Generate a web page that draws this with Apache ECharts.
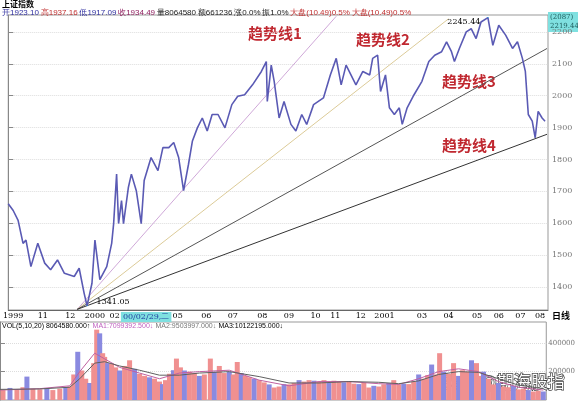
<!DOCTYPE html>
<html>
<head>
<meta charset="utf-8">
<script src="https://cdn.jsdelivr.net/npm/echarts@6/dist/echarts.min.js"></script>
<style>html,body{margin:0;padding:0;background:#fff}#c{width:578px;height:401px}</style>
</head>
<body>
<div id="c"></div>
<script>
// 价格走势 [横向位置, 指数]
var priceX = [0,5,10,15,18,23,30,37,43,50,57,67,72,77,80,85,88,93,100,105,107,110,112,115,117,122,125,130,135,138,145,152,157,163,168,173,178,183,187,192,197,202,207,213,220,227,233,240,248,257,262,263,267,270,275,280,287,292,298,303,310,320,327,333,338,343,353,360,367,370,375,378,383,387,392,397,400,405,412,420,427,433,440,445,450,453,458,465,470,475,480,487,492,498,505,512,517,522,525,528,532,535,538,542,545];
var priceY = [1661,1640,1609,1537,1547,1464,1537,1475,1454,1485,1443,1433,1459,1381,1341,1412,1547,1423,1464,1537,1599,1754,1599,1671,1599,1713,1754,1702,1599,1734,1806,1765,1837,1837,1853,1806,1702,1785,1858,1899,1930,1889,1941,1941,1899,1972,1998,2003,2034,2076,2107,1982,2096,2045,1930,1982,1910,1889,1941,1910,1972,1993,2065,2117,2034,2096,2034,2076,2065,2117,2127,2013,2065,1962,1941,1962,1910,1962,2003,2045,2107,2127,2138,2169,2138,2107,2148,2200,2210,2179,2231,2245,2158,2221,2190,2148,2169,2117,2076,1941,1920,1868,1951,1930,1920];
// 趋势线终点
var trendStart = [70, 1330];
var trendEnd = [[333, 2249], [447, 2241], [547, 2148], [547, 1879]];
var trendColor = ['#cfa8d8', '#dccb98', '#555555', '#333333'];
var trendName = ['趋势线1', '趋势线2', '趋势线3', '趋势线4'];
// 成交量
var volX = [3,10,17,23,27,33,40,47,53,60,66,70,74,78,82,86,90,94,97,100,103,105,108,112,116,120,125,130,135,140,145,150,155,160,163,166,170,174,177,181,185,190,195,200,205,211,215,220,225,230,234,238,242,246,250,255,260,265,270,275,280,285,290,295,300,305,310,315,320,325,330,335,340,345,350,355,360,365,370,375,380,385,390,395,400,405,410,415,420,425,429,433,437,441,445,450,455,460,464,468,473,478,482,485,490,495,500,505,510,515,520,525,530,535,540,545];
var volY = [70000,85000,75000,90000,165000,80000,75000,85000,70000,80000,90000,95000,180000,340000,208000,150000,120000,260000,496000,470000,330000,304000,260000,256000,230000,208000,240000,280000,220000,185000,170000,160000,150000,130000,112000,140000,185000,210000,292000,230000,208000,200000,190000,170000,180000,292000,200000,240000,190000,200000,180000,268000,190000,170000,160000,150000,140000,124000,110000,88000,95000,112000,110000,120000,140000,130000,140000,136000,130000,140000,120000,136000,130000,125000,130000,115000,112000,120000,88000,100000,95000,110000,120000,140000,110000,115000,112000,130000,180000,150000,175000,250000,180000,330000,200000,185000,260000,170000,210000,200000,280000,260000,170000,200000,150000,110000,120000,95000,90000,100000,75000,80000,70000,60000,65000,60000];
var volMa1X = [0,40,70,80,95,105,120,140,160,180,200,230,260,290,320,350,380,400,420,440,460,480,500,520,545];
var volMa1 = [70000,80000,100000,200000,330000,290000,230000,190000,150000,190000,200000,210000,140000,100000,130000,130000,115000,110000,150000,200000,220000,200000,130000,90000,70000];
var volMa2 = [75000,78000,90000,150000,260000,270000,240000,210000,175000,175000,190000,200000,165000,120000,120000,130000,125000,115000,135000,180000,200000,195000,150000,105000,80000];
var dateTickX = [5,35,63,88,108,140,172,201,228,258,285,312,332,358,382,420,447,476,498,520,540];
var dateTickText = ['1999','11','12','2000','02','00/02/29,二','05','06','07','08','09','10','11','12','2001','03','04','05','06','07','08'];
var priceTicks = [1400,1500,1600,1700,1800,1900,2000,2100,2200];
var volTicks = [200000, 400000];

var chart = echarts.init(document.getElementById('c'));
var serif = 'DejaVu Serif';

var priceData = [];
for (var i = 0; i < priceX.length; i++) priceData.push([priceX[i], priceY[i]]);
var volData = [];
for (var i = 0; i < volX.length; i++) {
    volData.push({value: [volX[i], volY[i]], itemStyle: {color: i % 3 == 1 ? '#8a8ae0' : '#f09090'}});
}
var ma1 = [], ma2 = [];
for (var i = 0; i < volMa1X.length; i++) {
    ma1.push([volMa1X[i], volMa1[i]]);
    ma2.push([volMa1X[i], volMa2[i]]);
}
var series = [];
for (var i = 0; i < trendEnd.length; i++) {
    series.push({
        type: 'line', data: [trendStart, trendEnd[i]], symbol: 'none', silent: true,
        lineStyle: {color: trendColor[i], width: 1}, z: 1
    });
}
series.push({
    type: 'line', data: priceData, symbol: 'none',
    lineStyle: {color: '#5a5ab4', width: 1.6}, z: 3,
    markPoint: {
        symbol: 'circle', symbolSize: 1,
        data: [
            {coord: [80, 1341], value: '1341.05', label: {show: true, position: 'right', offset: [4, -4], color: '#000', fontSize: 8, fontFamily: serif}},
            {coord: [487, 2245], value: '2245.44', label: {show: true, position: 'left', offset: [-2, 4], color: '#000', fontSize: 8, fontFamily: serif}}
        ]
    }
});
series.push({type: 'bar', xAxisIndex: 1, yAxisIndex: 1, data: volData, barWidth: 5});
series.push({type: 'line', xAxisIndex: 1, yAxisIndex: 1, data: ma1, symbol: 'none', lineStyle: {color: '#c060a0', width: 1}});
series.push({type: 'line', xAxisIndex: 1, yAxisIndex: 1, data: ma2, symbol: 'none', lineStyle: {color: '#606060', width: 1}});

var labels = [];
var labelPos = [[248, 26], [356, 32], [442, 74], [442, 138]];
for (var i = 0; i < trendName.length; i++) {
    labels.push({type: 'text', left: labelPos[i][0], top: labelPos[i][1],
        style: {text: trendName[i], fill: '#c02830', font: 'bold 15px "Noto Sans CJK SC"'}});
}

chart.setOption({
    animation: false,
    grid: [
        {left: 0, right: 30, top: 15, height: 295, show: true, borderColor: '#999'},
        {left: 0, right: 30, top: 322, bottom: 1, show: true, borderColor: '#999'}
    ],
    xAxis: [
        {type: 'value', gridIndex: 0, min: 0, max: 548, splitLine: {show: false},
            axisLine: {lineStyle: {color: '#666'}}, axisTick: {show: false},
            axisLabel: {customValues: dateTickX, margin: 2, fontSize: 8, fontFamily: serif, color: '#000',
                formatter: function (v) {
                    var k = dateTickX.indexOf(v);
                    if (k == 5) return '{h|' + dateTickText[k] + '}';
                    return k >= 0 ? dateTickText[k] : '';
                },
                rich: {h: {backgroundColor: '#7fe0e0', color: '#2040a0', fontSize: 8, fontFamily: serif, padding: [1, 2]}}}},
        {type: 'value', gridIndex: 1, min: 0, max: 548, show: false}
    ],
    yAxis: [
        {type: 'value', gridIndex: 0, position: 'right', min: 1328, max: 2253,
            axisLine: {show: true, lineStyle: {color: '#888'}},
            axisTick: {show: true, customValues: priceTicks, lineStyle: {color: '#888'}},
            axisLabel: {customValues: priceTicks, fontSize: 8, fontFamily: serif, color: '#777', margin: 4,
                formatter: function (v) { return String(v); }},
            splitLine: {show: true, lineStyle: {color: '#ddd', type: 'dotted'}}},
        {type: 'value', gridIndex: 1, position: 'right', min: 0, max: 550000,
            axisLine: {show: true, lineStyle: {color: '#888'}},
            axisTick: {show: true, customValues: volTicks},
            axisLabel: {customValues: volTicks, fontSize: 7, fontFamily: serif, color: '#777', margin: 2,
                formatter: function (v) { return String(v); }},
            splitLine: {show: true, lineStyle: {color: '#ddd', type: 'dotted'}}}
    ],
    series: series,
    graphic: labels.concat([
        {type: 'text', left: 2, top: 0, style: {text: '上证指数', fill: '#000', font: 'bold 8px "Noto Sans CJK SC"'}},
        {type: 'text', left: 2, top: 9, style: {
            text: '{a|开1923.10} {b|高1937.16} {a|低1917.09} {c|收1934.49} {d|量8064580} {d|额661236} {d|涨0.0%} {d|振1.0%} {b|大盘(10.49)0.5%} {b|大盘(10.49)0.5%}',
            rich: {a: {fill: '#3030a0', fontSize: 8}, b: {fill: '#c03030', fontSize: 8}, c: {fill: '#902060', fontSize: 8}, d: {fill: '#202020', fontSize: 8}},
            font: '8px "Noto Sans CJK SC"'}},
        {type: 'rect', left: 548, top: 12, shape: {width: 30, height: 20}, style: {fill: '#7fe0e0'}},
        {type: 'text', left: 550, top: 13, style: {text: '(2087)\n2219.44', fill: '#206060', font: '7px "DejaVu Serif"', lineHeight: 9}},
        {type: 'text', left: 552, top: 311, style: {text: '日线', fill: '#000', font: 'bold 9px "Noto Sans CJK SC"'}},
        {type: 'text', left: 2, top: 323, style: {
            text: '{d|VOL(5,10,20) 8064580.000↑} {m|MA1:7099392.500↓} {g|MA2:9503997.000↓} {d|MA3:10122195.000↓}',
            rich: {d: {fill: '#000', fontSize: 7}, m: {fill: '#c060c0', fontSize: 7}, g: {fill: '#777', fontSize: 7}},
            font: '7px "DejaVu Serif"'}},
        {type: 'text', left: 442, top: 372, style: {text: '头条 @期海股指', fill: '#fff', stroke: '#444', lineWidth: 1.5, font: '17px "Noto Sans CJK SC"'}}
    ])
});
</script>
</body>
</html>
